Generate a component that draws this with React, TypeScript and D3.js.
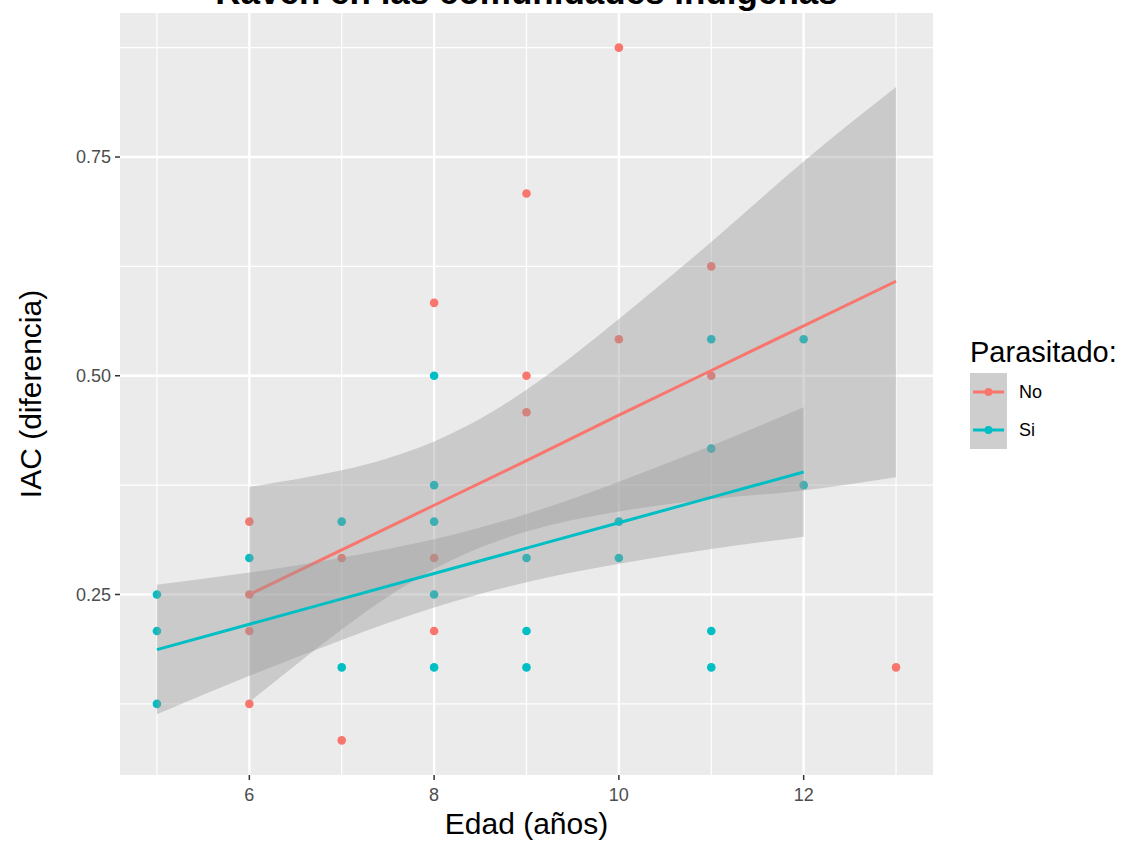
import React from 'react';
import * as d3 from 'd3';

// observed points (Edad, IAC) per group
const noAge = [6, 6, 6, 6, 7, 7, 8, 8, 8, 9, 9, 9, 10, 10, 11, 11, 13];
const noIac = [0.3333, 0.25, 0.2083, 0.125, 0.2917, 0.0833, 0.5833, 0.2917, 0.2083, 0.7083, 0.5, 0.4583, 0.875, 0.5417, 0.625, 0.5, 0.1667];
const siAge = [5, 5, 5, 6, 7, 7, 8, 8, 8, 8, 8, 9, 9, 9, 10, 10, 11, 11, 11, 11, 12, 12];
const siIac = [0.25, 0.2083, 0.125, 0.2917, 0.3333, 0.1667, 0.5, 0.375, 0.3333, 0.25, 0.1667, 0.2917, 0.2083, 0.1667, 0.3333, 0.2917, 0.5417, 0.4167, 0.2083, 0.1667, 0.5417, 0.375];

// lm fit + confidence band
const noFitAge = [6, 7, 8, 9, 10, 11, 12, 13];
const noFit = [0.25, 0.301, 0.352, 0.403, 0.455, 0.506, 0.557, 0.608];
const noLower = [0.127, 0.21, 0.279, 0.322, 0.345, 0.359, 0.369, 0.384];
const noUpper = [0.373, 0.392, 0.425, 0.484, 0.565, 0.653, 0.745, 0.83];
const siFitAge = [5, 6, 7, 8, 9, 10, 11, 12];
const siFit = [0.187, 0.216, 0.245, 0.274, 0.303, 0.332, 0.361, 0.39];
const siLower = [0.113, 0.157, 0.198, 0.235, 0.264, 0.285, 0.302, 0.316];
const siUpper = [0.261, 0.275, 0.292, 0.313, 0.342, 0.379, 0.42, 0.464];

const ageTicks = [6, 8, 10, 12];
const ageMinor = [5, 7, 9, 11, 13];
const iacTicks = [0.25, 0.5, 0.75];
const iacMinor = [0.125, 0.375, 0.625, 0.875];

const groups = ['No', 'Si'];
const colors = ['#F8766D', '#00BFC4'];

const W = 1125;
const H = 848;
const FONT = '"Liberation Sans", Arial, sans-serif';

const App = () => {
  const left = 120, right = 933, top = 13, bottom = 775;

  const x = d3.scaleLinear().domain([4.6, 13.4]).range([left, right]);
  const y = d3.scaleLinear().domain([0.0437, 0.9146]).range([bottom, top]);
  const fmt = d3.format('.2f');

  const series = [
    { ages: noAge, vals: noIac, fa: noFitAge, fit: noFit, lo: noLower, hi: noUpper },
    { ages: siAge, vals: siIac, fa: siFitAge, fit: siFit, lo: siLower, hi: siUpper },
  ];

  const band = d3
    .area<number>()
    .x((d) => x(d))
    .curve(d3.curveNatural);

  const line = d3.line<[number, number]>().x((d) => x(d[0])).y((d) => y(d[1]));

  return (
    <svg width={W} height={H} style={{ position: 'absolute', left: 0, top: 0, background: '#fff' }} fontFamily={FONT}>
      <text x={(left + right) / 2} y={4} textAnchor="middle" fontSize={35} fontWeight="bold" fill="#000">
        Raven en las comunidades indígenas
      </text>

      <rect x={left} y={top} width={right - left} height={bottom - top} fill="#EBEBEB" />
      {iacMinor.map((v) => (
        <line key={'ym' + v} x1={left} x2={right} y1={y(v)} y2={y(v)} stroke="#fff" strokeWidth={1.2} />
      ))}
      {ageMinor.map((v) => (
        <line key={'xm' + v} x1={x(v)} x2={x(v)} y1={top} y2={bottom} stroke="#fff" strokeWidth={1.2} />
      ))}
      {iacTicks.map((v) => (
        <line key={'y' + v} x1={left} x2={right} y1={y(v)} y2={y(v)} stroke="#fff" strokeWidth={2.4} />
      ))}
      {ageTicks.map((v) => (
        <line key={'x' + v} x1={x(v)} x2={x(v)} y1={top} y2={bottom} stroke="#fff" strokeWidth={2.4} />
      ))}

      {series.map((s, gi) =>
        s.ages.map((a, i) => (
          <circle key={`p${gi}-${i}`} cx={x(a)} cy={y(s.vals[i])} r={4.3} fill={colors[gi]} />
        ))
      )}

      {series.map((s, gi) => (
        <g key={'sm' + gi}>
          <path
            d={band.y0((_, i) => y(s.lo[i])).y1((_, i) => y(s.hi[i]))(s.fa) || ''}
            fill="#999999"
            fillOpacity={0.4}
          />
          <path
            d={line(s.fa.map((a, i) => [a, s.fit[i]] as [number, number])) || ''}
            fill="none"
            stroke={colors[gi]}
            strokeWidth={3}
          />
        </g>
      ))}

      {/* axes */}
      {iacTicks.map((v) => (
        <g key={'yt' + v}>
          <line x1={left - 5} x2={left} y1={y(v)} y2={y(v)} stroke="#333" strokeWidth={1.5} />
          <text x={left - 9} y={y(v)} dy="0.35em" textAnchor="end" fontSize={18} fill="#4D4D4D">
            {fmt(v)}
          </text>
        </g>
      ))}
      {ageTicks.map((v) => (
        <g key={'xt' + v}>
          <line x1={x(v)} x2={x(v)} y1={bottom} y2={bottom + 5} stroke="#333" strokeWidth={1.5} />
          <text x={x(v)} y={bottom + 26} textAnchor="middle" fontSize={18} fill="#4D4D4D">
            {v}
          </text>
        </g>
      ))}

      <text x={(left + right) / 2} y={834} textAnchor="middle" fontSize={30} fill="#000">
        Edad (años)
      </text>
      <text
        transform={`translate(30,${(top + bottom) / 2}) rotate(-90)`}
        dy="0.35em"
        textAnchor="middle"
        fontSize={30}
        fill="#000"
      >
        IAC (diferencia)
      </text>

      {/* legend */}
      <text x={970} y={362} fontSize={29} fill="#000">
        Parasitado:
      </text>
      {groups.map((g, i) => {
        const ky = 373 + i * 38;
        return (
          <g key={'lg' + g}>
            <rect x={970} y={ky} width={37} height={38} fill="#F2F2F2" />
            <rect x={970} y={ky} width={37} height={38} fill="#999999" fillOpacity={0.4} />
            <line x1={973} x2={1004} y1={ky + 19} y2={ky + 19} stroke={colors[i]} strokeWidth={3} />
            <circle cx={988.5} cy={ky + 19} r={4} fill={colors[i]} />
            <text x={1019} y={ky + 19} dy="0.35em" fontSize={18} fill="#000">
              {g}
            </text>
          </g>
        );
      })}
    </svg>
  );
};

export default App;
